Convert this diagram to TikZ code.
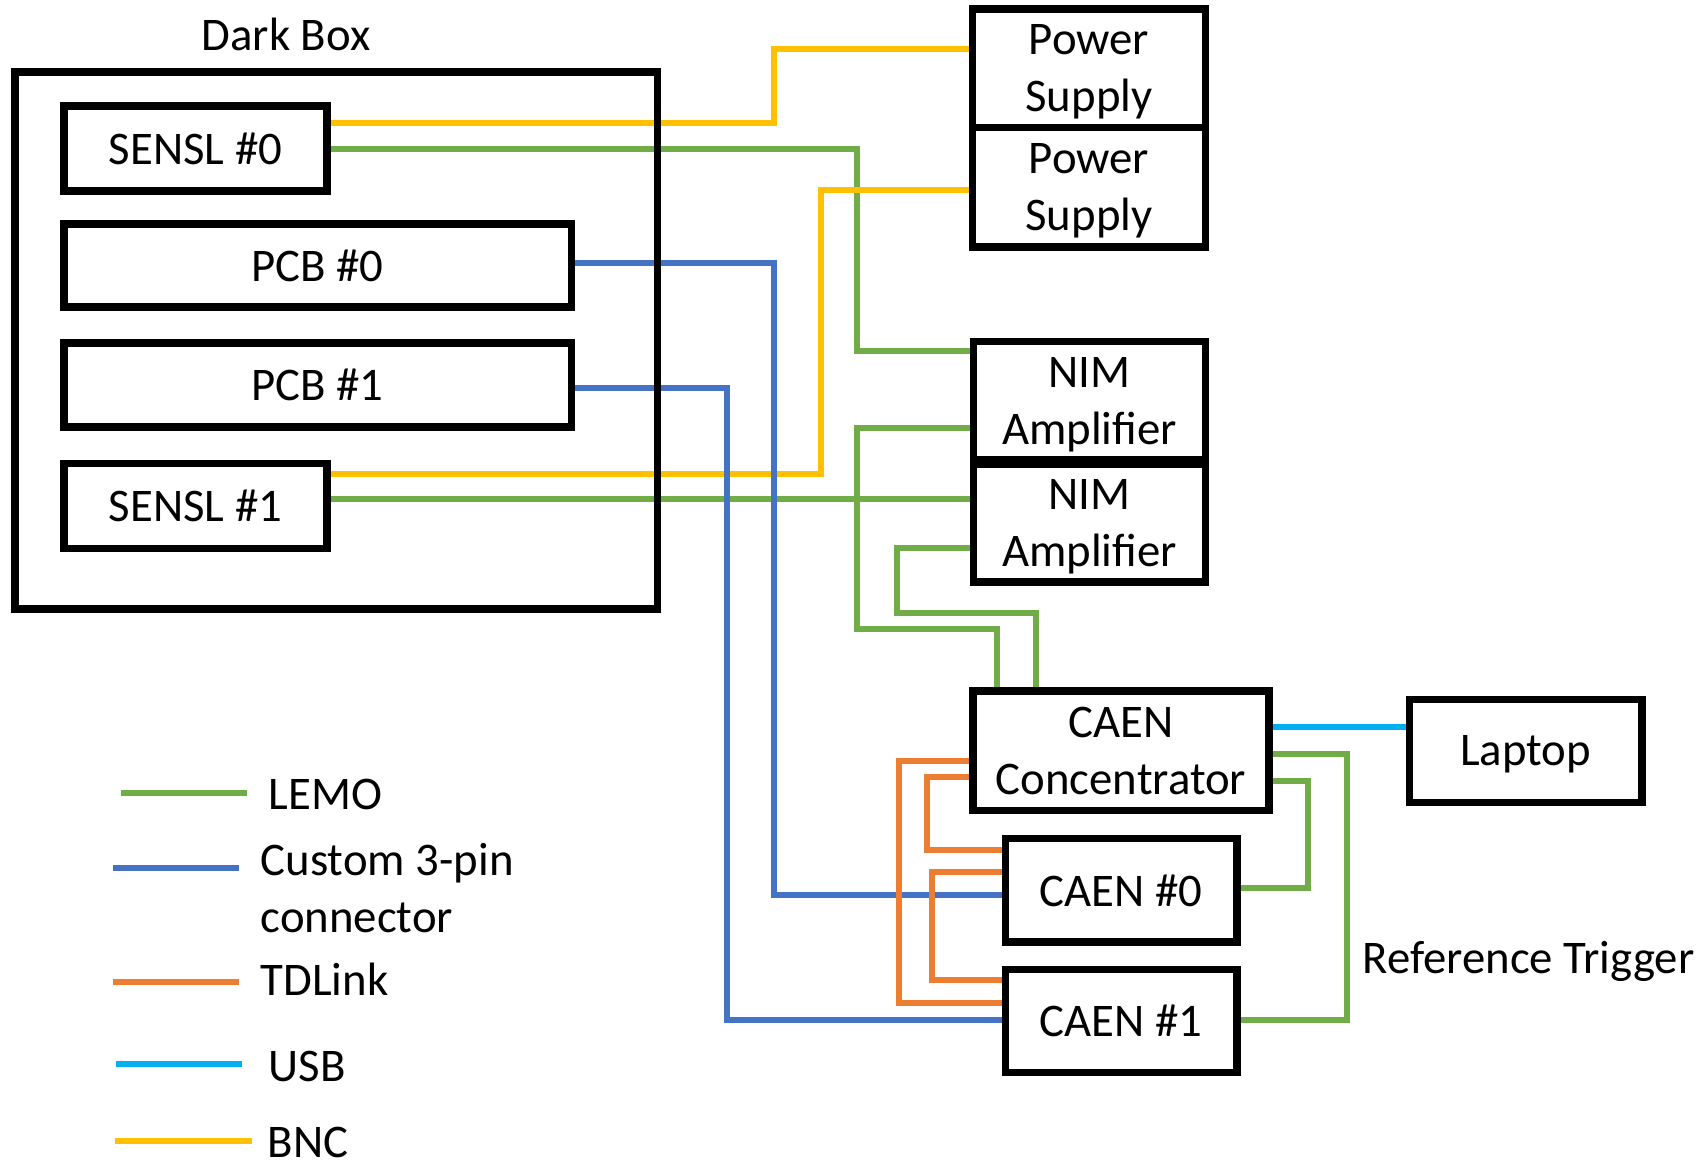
\documentclass[tikz,border=0pt]{standalone}
\usepackage{fontspec}
\setmainfont{Carlito}
\usepackage{tikz}
\usetikzlibrary{positioning, backgrounds}
\definecolor{lemogreen}{RGB}{112,173,71}
\definecolor{pinblue}{RGB}{68,114,196}
\definecolor{tdorange}{RGB}{237,125,49}
\definecolor{usbcyan}{RGB}{0,176,240}
\definecolor{bncyellow}{RGB}{255,192,0}
\newcommand{\diagfont}{\fontsize{13.3pt}{16.2pt}\selectfont}

\begin{document}
\begin{tikzpicture}[
    x=0.01cm, y=-0.01cm,
    node distance=0.3cm and 0.3cm,
    % ── Box styles ──
    unit/.style={rectangle, draw=black, line width=2.1pt, outer sep=0pt,
                 inner sep=2pt, text depth=0pt, align=center, font=\diagfont},
    legtext/.style={inner sep=0pt, align=left, font=\diagfont},
    % ── Cable styles ──
    lemo/.style={draw=lemogreen, line width=1.85pt},
    pin3/.style={draw=pinblue, line width=1.85pt},
    tdlink/.style={draw=tdorange, line width=1.85pt},
    usb/.style={draw=usbcyan, line width=1.85pt},
    bnc/.style={draw=bncyellow, line width=1.85pt}
]
\useasboundingbox (0,0) rectangle (1706,1159);

% ═══ Dark box ═══
\node[unit, minimum width=6.42cm, minimum height=5.37cm] (darkbox) at (336,340.5) {};
\node[legtext, anchor=base] (darklabel) at (286,50) {Dark Box};
\node[unit, minimum width=2.63cm, minimum height=0.85cm] (sensl0) at (195.5,148.5) {SENSL \#0};
\node[unit, minimum width=5.07cm, minimum height=0.83cm,
      below=0.33cm of sensl0.south west, anchor=north west] (pcb0) {PCB \#0};
\node[unit, minimum width=5.07cm, minimum height=0.84cm,
      below=0.36cm of pcb0.south west, anchor=north west] (pcb1) {PCB \#1};
\node[unit, minimum width=2.63cm, minimum height=0.85cm,
      below=0.36cm of pcb1.south west, anchor=north west] (sensl1) {SENSL \#1};

% ═══ Rack ═══
\node[unit, minimum width=2.33cm, minimum height=1.185cm] (psu0) at (1089,68.25) {Power\\Supply};
\node[unit, minimum width=2.33cm, minimum height=1.195cm, below=0pt of psu0] (psu1) {Power\\Supply};
\node[unit, minimum width=2.32cm, minimum height=1.185cm] (nim0) at (1089.5,400.75) {NIM\\Amplifier};
\node[unit, minimum width=2.32cm, minimum height=1.18cm, below=0.04cm of nim0] (nim1) {NIM\\Amplifier};

% ═══ Digitizers ═══
\node[unit, minimum width=2.96cm, minimum height=1.195cm] (conc) at (1121,750.75) {CAEN\\Concentrator};
\node[unit, minimum width=2.315cm, minimum height=1.035cm, below=0.28cm of conc] (caen0) {CAEN \#0};
\node[unit, minimum width=2.315cm, minimum height=1.03cm, below=0.275cm of caen0] (caen1) {CAEN \#1};
\node[unit, minimum width=2.32cm, minimum height=1.03cm, right=1.405cm of conc] (laptop) {Laptop};

% ═══ Cables ═══
\begin{scope}[on background layer]
\draw[lemo] (sensl0.east |- 0,149) -| (857,351) -- (nim0.west |- 0,351);
\draw[lemo] (sensl1.east |- 0,499) -- (nim1.west |- 0,499);
\draw[lemo] (nim0.west |- 0,428) -| (857,629) -| (conc.north -| 997,0);
\draw[lemo] (nim1.west |- 0,548) -| (897,613) -| (conc.north -| 1036,0);
\draw[lemo] (conc.east |- 0,754) -| (1347,1020) -- (caen1.east |- 0,1020);
\draw[lemo] (conc.east |- 0,781) -| (1308,888) -- (caen0.east |- 0,888);

\draw[bnc] (sensl0.east |- 0,123) -| (774,49) -- (psu0.west |- 0,49);
\draw[bnc] (psu1.west |- 0,190) -| (821,474) -- (sensl1.east |- 0,474);

\draw[pin3] (pcb0.east |- 0,263) -| (774,895) -- (caen0.west |- 0,895);
\draw[pin3] (pcb1.east |- 0,388) -| (727,1020) -- (caen1.west |- 0,1020);

\draw[tdlink] (conc.west |- 0,761) -| (899,1003) -- (caen1.west |- 0,1003);
\draw[tdlink] (conc.west |- 0,777) -| (927,850) -- (caen0.west |- 0,850);
\draw[tdlink] (caen0.west |- 0,872) -| (932,980) -- (caen1.west |- 0,980);

\draw[usb] (conc.east |- 0,727) -- (laptop.west |- 0,727);
\end{scope}

\node[legtext, anchor=base west] (reftrig) at (1362,973) {Reference Trigger};

% ═══ Legend ═══
\node[legtext, anchor=base west] (keylemo) at (268,809) {LEMO};
\node[legtext, anchor=base west] (keypin)  at (260,932) {Custom 3-pin\\connector};
\node[legtext, anchor=base west] (keytd)   at (260,995) {TDLink};
\node[legtext, anchor=base west] (keyusb)  at (268,1081) {USB};
\node[legtext, anchor=base west] (keybnc)  at (267,1157) {BNC};
\draw[lemo]   (keylemo.base west) ++(-21,-16) -- ++(-126,0);
\draw[pin3]   (keypin.base west)  ++(-21,-64) -- ++(-126,0);
\draw[tdlink] (keytd.base west)   ++(-21,-13) -- ++(-126,0);
\draw[usb]    (keyusb.base west)  ++(-26,-17) -- ++(-126,0);
\draw[bnc]    (keybnc.base west)  ++(-15,-16) -- ++(-137,0);

\end{tikzpicture}
\end{document}
